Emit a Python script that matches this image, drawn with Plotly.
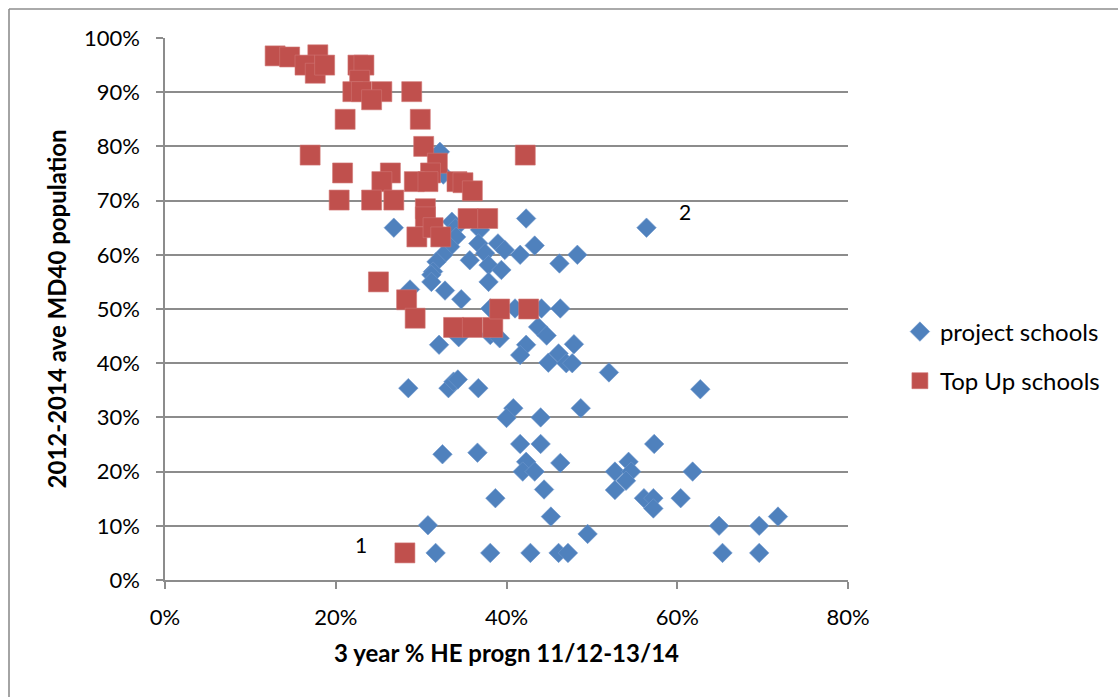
import plotly.graph_objects as go

# Top Up schools: 3-year HE progression (x) vs 2012-2014 ave MD40 population (y)
topup_x = [0.129, 0.146, 0.179, 0.164, 0.176, 0.187, 0.226, 0.233, 0.228, 0.220,
           0.230, 0.254, 0.242, 0.289, 0.211, 0.299, 0.170, 0.422, 0.303, 0.319,
           0.311, 0.208, 0.264, 0.254, 0.292, 0.308, 0.342, 0.349, 0.360, 0.204,
           0.242, 0.268, 0.305, 0.355, 0.378, 0.305, 0.295, 0.314, 0.323, 0.250,
           0.283, 0.293, 0.338, 0.360, 0.384, 0.392, 0.426, 0.281]
topup_y = [0.967, 0.965, 0.969, 0.950, 0.935, 0.950, 0.950, 0.950, 0.922, 0.901,
           0.901, 0.901, 0.886, 0.901, 0.850, 0.850, 0.784, 0.784, 0.800, 0.769,
           0.751, 0.751, 0.751, 0.735, 0.735, 0.735, 0.735, 0.733, 0.718, 0.701,
           0.701, 0.701, 0.685, 0.667, 0.667, 0.670, 0.633, 0.650, 0.633, 0.550,
           0.517, 0.483, 0.466, 0.466, 0.466, 0.500, 0.500, 0.050]

# Project schools
project_x = [0.322, 0.326, 0.268, 0.336, 0.340, 0.341, 0.334, 0.326, 0.318, 0.314,
             0.312, 0.312, 0.287, 0.328, 0.347, 0.369, 0.367, 0.390, 0.423, 0.433,
             0.357, 0.375, 0.379, 0.398, 0.416, 0.394, 0.379, 0.462, 0.483, 0.564,
             0.381, 0.410, 0.441, 0.463, 0.437, 0.447, 0.344, 0.381, 0.392, 0.321,
             0.423, 0.479, 0.416, 0.461, 0.449, 0.470, 0.477, 0.520, 0.627, 0.285,
             0.332, 0.338, 0.343, 0.367, 0.408, 0.487, 0.400, 0.440, 0.325, 0.366,
             0.416, 0.440, 0.573, 0.423, 0.419, 0.433, 0.463, 0.527, 0.543, 0.546,
             0.540, 0.618, 0.444, 0.387, 0.527, 0.561, 0.572, 0.572, 0.604, 0.452,
             0.495, 0.308, 0.649, 0.696, 0.718, 0.317, 0.381, 0.428, 0.461, 0.472,
             0.653, 0.696]
project_y = [0.790, 0.748, 0.650, 0.661, 0.649, 0.633, 0.615, 0.600, 0.587, 0.569,
             0.563, 0.550, 0.536, 0.534, 0.518, 0.646, 0.621, 0.621, 0.667, 0.617,
             0.590, 0.603, 0.581, 0.609, 0.600, 0.572, 0.550, 0.584, 0.600, 0.650,
             0.501, 0.501, 0.501, 0.501, 0.467, 0.451, 0.448, 0.452, 0.446, 0.434,
             0.434, 0.435, 0.415, 0.418, 0.401, 0.400, 0.400, 0.383, 0.352, 0.354,
             0.354, 0.366, 0.370, 0.354, 0.317, 0.317, 0.299, 0.300, 0.232, 0.235,
             0.251, 0.251, 0.251, 0.218, 0.200, 0.200, 0.216, 0.200, 0.218, 0.200,
             0.183, 0.200, 0.167, 0.151, 0.166, 0.151, 0.151, 0.132, 0.151, 0.117,
             0.085, 0.101, 0.100, 0.100, 0.117, 0.050, 0.050, 0.050, 0.050, 0.050,
             0.050, 0.050]

# Point labels
label_text = ["1", "2"]
label_x = [0.229, 0.609]
label_y = [0.065, 0.679]

x_ticks = [0, 0.2, 0.4, 0.6, 0.8]
y_ticks = [0, 0.1, 0.2, 0.3, 0.4, 0.5, 0.6, 0.7, 0.8, 0.9, 1.0]

FONT = "Lato"
BLUE = "#4F81BD"
RED = "#C0504D"
GRID = "#8C8C8C"

fig = go.Figure()
fig.add_trace(go.Scatter(
    x=project_x, y=project_y, mode="markers", name="project schools",
    marker=dict(symbol="diamond", size=15, color=BLUE,
                line=dict(width=0.6, color="#6F97CC")),
    legend="legend",
))
fig.add_trace(go.Scatter(
    x=topup_x, y=topup_y, mode="markers", name="Top Up schools",
    marker=dict(symbol="square", size=20, color=RED,
                line=dict(width=0.6, color="#D07573")),
    legend="legend2",
))

for t, lx, ly in zip(label_text, label_x, label_y):
    fig.add_annotation(x=lx, y=ly, text=t, showarrow=False,
                       font=dict(family=FONT, size=21, color="black"))

# chart frame (left and top edges)
fig.add_shape(type="line", xref="paper", yref="paper",
              x0=-0.2284, x1=-0.2284, y0=1.0535, y1=-0.25,
              line=dict(color="#8E8E8E", width=1.6))
fig.add_shape(type="line", xref="paper", yref="paper",
              x0=-0.2284, x1=1.42, y0=1.0535, y1=1.0535,
              line=dict(color="#8E8E8E", width=1.6))

fig.update_layout(
    width=1118, height=697,
    margin=dict(l=165, r=270, t=38, b=117),
    paper_bgcolor="white", plot_bgcolor="white",
    font=dict(family=FONT, size=22, color="black"),
    showlegend=True,
    legend=dict(x=1.076, y=0.4576, xanchor="left", yanchor="middle",
                font=dict(family=FONT, size=24), bgcolor="rgba(0,0,0,0)",
                itemwidth=30),
    legend2=dict(x=1.076, y=0.367, xanchor="left", yanchor="middle",
                 font=dict(family=FONT, size=24), bgcolor="rgba(0,0,0,0)",
                 itemwidth=30),
    xaxis=dict(
        range=[0, 0.8], tickvals=x_ticks, tickformat=".0%",
        showgrid=False, zeroline=False,
        showline=True, linecolor=GRID, linewidth=1.6,
        ticks="outside", ticklen=7, tickcolor=GRID, tickwidth=1.6,
        ticklabelstandoff=10,
        tickfont=dict(family=FONT, size=22),
        title=dict(text="<b>3 year % HE progn 11/12-13/14</b>",
                   font=dict(family=FONT, size=24), standoff=16),
    ),
    yaxis=dict(
        range=[0, 1.0], tickvals=y_ticks, tickformat=".0%",
        showgrid=True, gridcolor=GRID, gridwidth=1.6, zeroline=False,
        showline=True, linecolor=GRID, linewidth=1.6,
        ticks="outside", ticklen=7, tickcolor=GRID, tickwidth=1.6,
        ticklabelstandoff=12,
        tickfont=dict(family=FONT, size=22),
        title=dict(text="<b>2012-2014 ave MD40 population</b>",
                   font=dict(family=FONT, size=24), standoff=10),
    ),
)

fig.write_html("out.html")
